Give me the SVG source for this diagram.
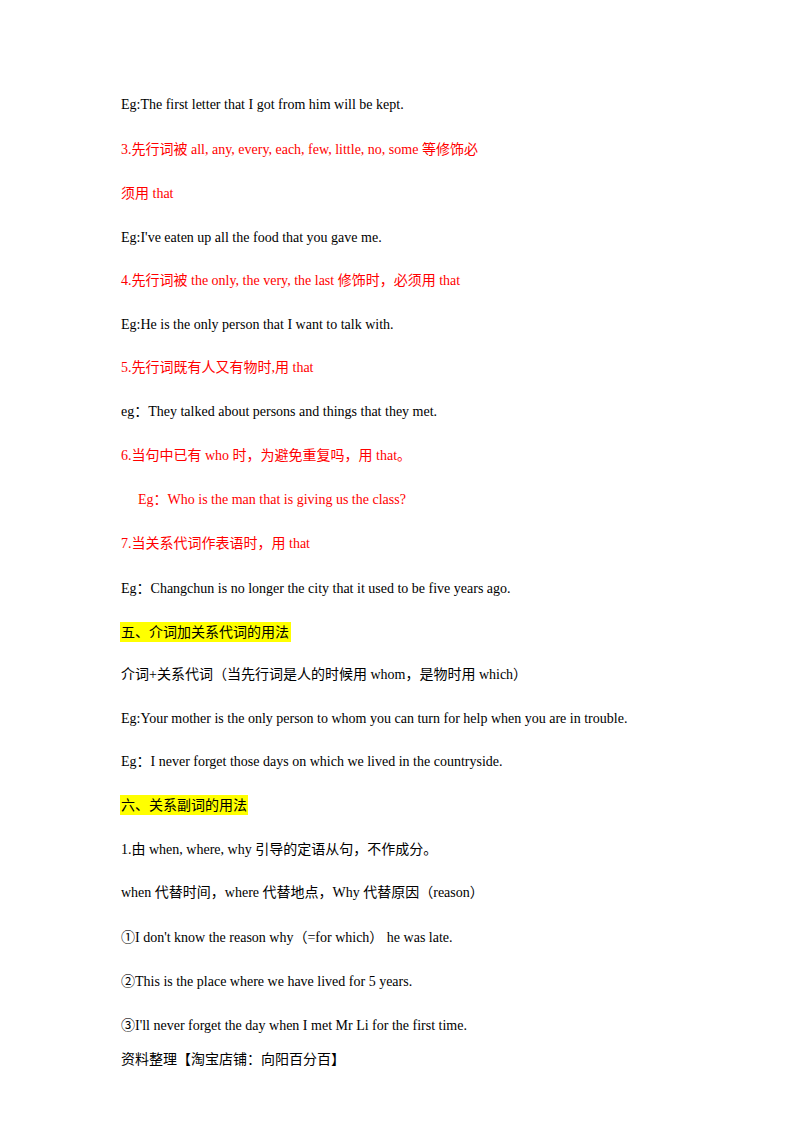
<svg xmlns="http://www.w3.org/2000/svg" width="800" height="1132" viewBox="0 0 800 1132">
<style>
text{font-family:"Liberation Serif","Noto Sans CJK SC",serif;font-size:14px;fill:#000}
.r{fill:#ff0000}
</style>
<rect width="800" height="1132" fill="#fff"/>
<rect x="120" y="622" width="171" height="20" fill="#ffff00"/>
<rect x="120" y="795" width="128" height="20" fill="#ffff00"/>
<text x="121" y="109">Eg:The first letter that I got from him will be kept.</text>
<text class="r" x="121" y="154">3.先行词被 all, any, every, each, few, little, no, some 等修饰必</text>
<text class="r" x="121" y="198">须用 that</text>
<text x="121" y="242">Eg:I've eaten up all the food that you gave me.</text>
<text class="r" x="121" y="285">4.先行词被 the only, the very, the last 修饰时，必须用 that</text>
<text x="121" y="329">Eg:He is the only person that I want to talk with.</text>
<text class="r" x="121" y="372">5.先行词既有人又有物时,用 that</text>
<text x="121" y="416">eg：They talked about persons and things that they met.</text>
<text class="r" x="121" y="460">6.当句中已有 who 时，为避免重复吗，用 that。</text>
<text class="r" x="138" y="504">Eg：Who is the man that is giving us the class?</text>
<text class="r" x="121" y="548">7.当关系代词作表语时，用 that</text>
<text x="121" y="593">Eg：Changchun is no longer the city that it used to be five years ago.</text>
<text x="121" y="637">五、介词加关系代词的用法</text>
<text x="121" y="679">介词+关系代词（当先行词是人的时候用 whom，是物时用 which）</text>
<text x="121" y="723">Eg:Your mother is the only person to whom you can turn for help when you are in trouble.</text>
<text x="121" y="766">Eg：I never forget those days on which we lived in the countryside.</text>
<text x="121" y="810">六、关系副词的用法</text>
<text x="121" y="854">1.由 when, where, why 引导的定语从句，不作成分。</text>
<text x="121" y="897">when  代替时间，where 代替地点，Why  代替原因（reason）</text>
<text x="121" y="942">①I don't know the reason why（=for which）  he was late.</text>
<text x="121" y="986">②This is the place where we have lived for 5 years.</text>
<text x="121" y="1030">③I'll never forget the day when I met Mr Li for the first time.</text>
<text x="121" y="1064">资料整理【淘宝店铺：向阳百分百】</text>
</svg>
